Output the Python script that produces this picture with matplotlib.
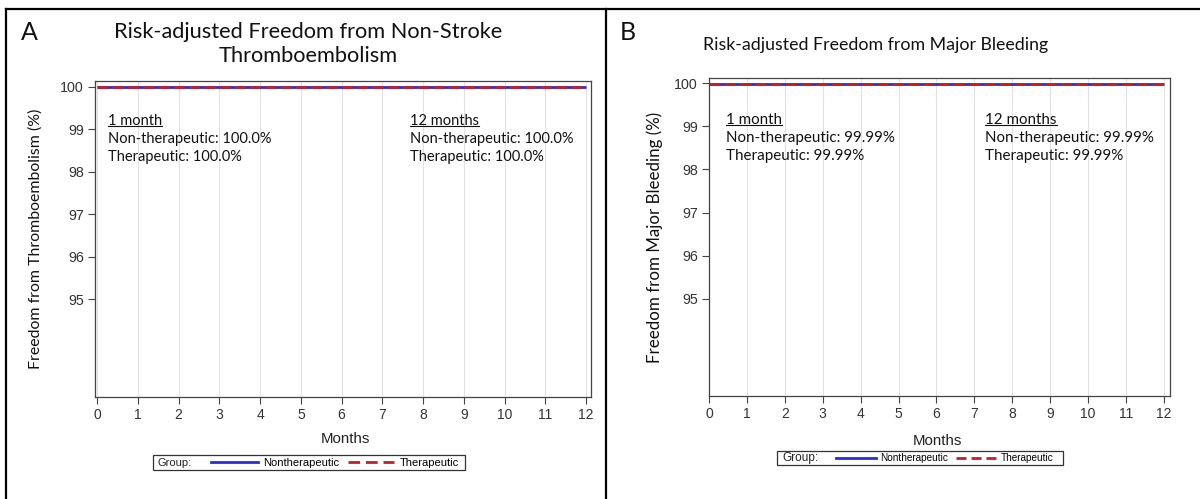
import matplotlib
matplotlib.use("Agg")
import matplotlib.pyplot as plt
from matplotlib.lines import Line2D
from matplotlib.patches import Rectangle

# ---------------- data ----------------
months = [0, 12]
xticks = list(range(0, 13))
yticks = [95, 96, 97, 98, 99, 100]

a_nontherapeutic = [100.0, 100.0]
a_therapeutic = [100.0, 100.0]
b_nontherapeutic = [99.99, 99.99]
b_therapeutic = [99.99, 99.99]

a_title = "Risk-adjusted Freedom from Non-Stroke\nThromboembolism"
b_title = "Risk-adjusted Freedom from Major Bleeding"
a_ylabel = "Freedom from Thromboembolism (%)"
b_ylabel = "Freedom from Major Bleeding (%)"
a_1m = ["Non-therapeutic: 100.0%", "Therapeutic: 100.0%"]
a_12m = ["Non-therapeutic: 100.0%", "Therapeutic: 100.0%"]
b_1m = ["Non-therapeutic: 99.99%", "Therapeutic: 99.99%"]
b_12m = ["Non-therapeutic: 99.99%", "Therapeutic: 99.99%"]
group_labels = ["Nontherapeutic", "Therapeutic"]

# ---------------- layout ----------------
W, H = 1200, 499
fig = plt.figure(figsize=(W / 100, H / 100), dpi=100)

def fx(px):
    return px / W

def fy(py):
    return 1 - py / H

CAL = ["Lato", "DejaVu Sans"]
ARI = ["Liberation Sans", "DejaVu Sans"]
BLUE = "#2b2bdc"
RED = "#c0202a"
TXT = "#111111"


def make_panel(l, r, t, b, xlim, ylim, nonther, ther, ylabel, ylfs, t1, t2, tx1, tx2, ty, afs):
    ax = fig.add_axes([fx(l), fy(b), fx(r - l), (b - t) / H])
    ax.set_xlim(*xlim)
    ax.set_ylim(*ylim)
    ax.set_xticks(xticks)
    ax.set_yticks(yticks)
    ax.set_xticklabels([str(v) for v in xticks], family=ARI, fontsize=10, color="#333333")
    ax.set_yticklabels([str(v) for v in yticks], family=ARI, fontsize=10.3, color="#333333")
    ax.tick_params(direction="out", length=5, width=0.8, color="#444444", pad=3)
    for s in ax.spines.values():
        s.set_color("#444444")
        s.set_linewidth(0.9)
    ax.grid(axis="x", color="#e2e2e2", linewidth=0.8)
    ax.set_axisbelow(True)
    ax.plot(months, nonther, color=BLUE, linewidth=2.0, solid_capstyle="butt")
    ax.plot(months, ther, color=RED, linewidth=2.0, linestyle=(0, (4, 1.5)))
    ax.set_ylabel(ylabel, family=CAL, fontsize=ylfs, color=TXT)

    def px2ax(px, py):
        return (px - l) / (r - l), (b - py) / (b - t)
    for x0, head, lines in [(tx1, "1 month", t1), (tx2, "12 months", t2)]:
        xa, ya = px2ax(x0, ty)
        ax.text(xa, ya, head, transform=ax.transAxes, family=CAL, fontsize=afs,
                va="center", ha="left", color=TXT, gid="u")
        for i, s in enumerate(lines):
            xa, ya = px2ax(x0, ty + 18 * (i + 1))
            ax.text(xa, ya, s, transform=ax.transAxes, family=CAL, fontsize=afs,
                    va="center", ha="left", color=TXT)
    return ax


axA = make_panel(95, 591, 81, 397, (-0.05, 12.12), (92.69, 100.14),
                 a_nontherapeutic, a_therapeutic, a_ylabel, 11.4,
                 a_1m, a_12m, 108, 410, 121, 10.5)
axB = make_panel(709, 1170, 78, 396, (0, 12.16), (92.75, 100.12),
                 b_nontherapeutic, b_therapeutic, b_ylabel, 12.2,
                 b_1m, b_12m, 726, 985, 120, 10.9)
axA.yaxis.set_label_coords((43 - 95) / 496, 0.5)
axB.yaxis.set_label_coords((663 - 709) / 461, 0.5)

axA.set_xlabel("Months", family=ARI, fontsize=10.8, color="#222222")
axA.xaxis.set_label_coords((345 - 95) / 496, -(432 - 397) / 316)
axB.set_xlabel("Months", family=ARI, fontsize=10.8, color="#222222")
axB.xaxis.set_label_coords((937 - 709) / 461, -(434 - 396) / 318)

# titles and panel letters
fig.text(fx(308), fy(44), a_title, family=CAL, fontsize=15.7, ha="center", va="center",
         linespacing=1.3, color=TXT)
fig.text(fx(876), fy(45), b_title, family=CAL, fontsize=12.8, ha="center", va="center",
         color=TXT)
fig.text(fx(21), fy(33), "A", family=CAL, fontsize=18, ha="left", va="center", color=TXT)
fig.text(fx(620), fy(33), "B", family=CAL, fontsize=18, ha="left", va="center", color=TXT)

# panel borders
for xs, ys in [([6, 1200], [9, 9]), ([6, 6], [9, 499]), ([606, 606], [9, 499])]:
    fig.add_artist(Line2D([fx(v) for v in xs], [fy(v) for v in ys], color="black",
                          linewidth=1.6, transform=fig.transFigure))

# legends: frame + "Group:" text + legend entries
def make_legend(x0, x1, y0, y1, gx, gfs, lx, lfs, hlen):
    fig.add_artist(Rectangle((fx(x0), fy(y1)), fx(x1 - x0), (y1 - y0) / H,
                             transform=fig.transFigure, fill=False,
                             edgecolor="#333333", linewidth=0.9))
    fig.text(fx(gx), fy((y0 + y1) / 2), "Group:", family=ARI, fontsize=gfs,
             ha="left", va="center", color="#222222")
    total = hlen * lfs / 2.0  # handle length in linewidth units
    d = total / 4.0
    g = d / 2.0
    handles = [Line2D([], [], color=BLUE, linewidth=2.0),
               Line2D([], [], color=RED, linewidth=2.0, linestyle=(0, (d, g)),
                      dash_capstyle="butt")]
    fig.legend(handles, group_labels, loc="center left",
               bbox_to_anchor=(fx(lx), fy((y0 + y1) / 2)),
               ncol=2, frameon=False, prop={"family": ARI, "size": lfs},
               handlelength=hlen, handletextpad=0.45, columnspacing=0.8,
               borderpad=0, borderaxespad=0)

make_legend(153, 465, 455, 470, 157, 8, 211, 8, 4.2)
make_legend(777, 1063, 451, 465, 782, 8.5, 836, 7.2, 4.0)

# underline headers
fig.canvas.draw()
r = fig.canvas.get_renderer()
for ax in (axA, axB):
    for t in ax.texts:
        if t.get_gid() == "u":
            bb = t.get_window_extent(r)
            yline = bb.y0 + 2
            fig.add_artist(Line2D([bb.x0 / W, bb.x1 / W], [yline / H, yline / H],
                                  color=TXT, linewidth=0.8, transform=fig.transFigure))

fig.savefig("out.png", dpi=100)
